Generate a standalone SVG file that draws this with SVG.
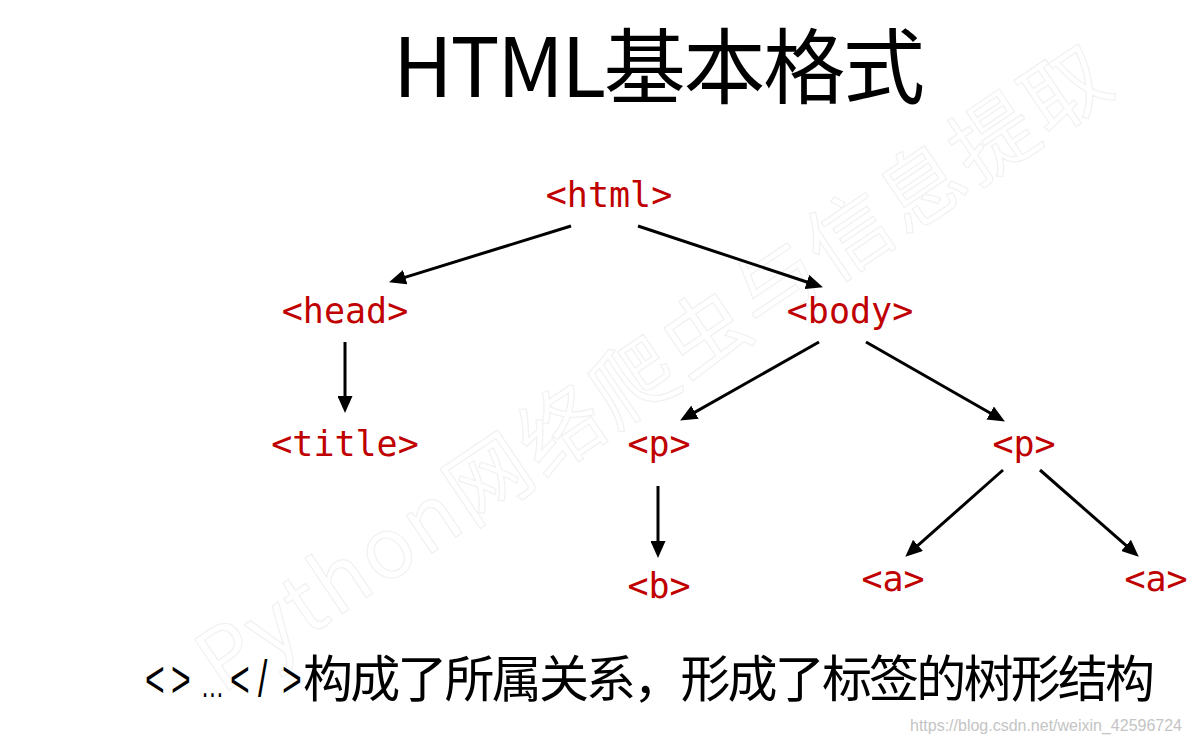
<svg xmlns="http://www.w3.org/2000/svg" width="1192" height="745" viewBox="0 0 1192 745">
  <style>
    .node { font-family: "DejaVu Sans Mono", "Liberation Mono", monospace; font-size: 35px; fill: #c00000; text-anchor: middle; }
    .edge { stroke: #000; stroke-width: 3; fill: none; marker-end: url(#arrow); }
    .cjk { font-family: "Noto Sans CJK SC", "Liberation Sans", sans-serif; fill: #000; }
  </style>
  <defs>
    <marker id="arrow" markerUnits="userSpaceOnUse" markerWidth="17" markerHeight="15" viewBox="0 0 17 15" refX="8" refY="7.5" orient="auto">
      <path d="M0,0 L17,7.5 L0,15 z" fill="#000"/>
    </marker>
  </defs>
  <rect width="1192" height="745" fill="#fff"/>

  <!-- faint watermarks -->
  <text transform="translate(222,695) rotate(-34)" x="0" y="0" textLength="1080" lengthAdjust="spacing" style="font-family:'Noto Sans CJK SC',sans-serif;font-size:84px;fill:none;stroke:#f1f1f1;stroke-width:1.2">Python网络爬虫与信息提取</text>
  <text x="910" y="731" textLength="272" lengthAdjust="spacingAndGlyphs" style="font-family:'Liberation Sans',sans-serif;font-size:16px;fill:#c4c4c4">https://blog.csdn.net/weixin_42596724</text>

  <text id="title" class="cjk" x="393" y="97" font-size="82" textLength="532" lengthAdjust="spacing">HTML基本格式</text>

  <g id="connectors">
    <line class="edge" x1="571" y1="226" x2="397.6" y2="279.6"/>
    <line class="edge" x1="638" y1="226" x2="814.4" y2="284.5"/>
    <line class="edge" x1="345" y1="342" x2="345" y2="404"/>
    <line class="edge" x1="819" y1="342" x2="688" y2="416.1"/>
    <line class="edge" x1="866" y1="342" x2="997.1" y2="417"/>
    <line class="edge" x1="658" y1="486" x2="658" y2="549"/>
    <line class="edge" x1="1003" y1="470" x2="912" y2="550.7"/>
    <line class="edge" x1="1040" y1="470" x2="1132" y2="550.7"/>
  </g>

  <g id="node-html"><text class="node" x="609" y="207">&lt;html&gt;</text></g>
  <g id="node-head"><text class="node" x="345" y="323">&lt;head&gt;</text></g>
  <g id="node-body"><text class="node" x="850" y="323">&lt;body&gt;</text></g>
  <g id="node-title"><text class="node" x="345" y="456">&lt;title&gt;</text></g>
  <g id="node-p1"><text class="node" x="659" y="456">&lt;p&gt;</text></g>
  <g id="node-p2"><text class="node" x="1024" y="456">&lt;p&gt;</text></g>
  <g id="node-b"><text class="node" x="659" y="598">&lt;b&gt;</text></g>
  <g id="node-a1"><text class="node" x="893" y="591">&lt;a&gt;</text></g>
  <g id="node-a2"><text class="node" x="1156" y="591">&lt;a&gt;</text></g>

  <g id="caption">
    <text transform="scale(0.65,1)" y="697" style="font-family:'Liberation Sans',sans-serif;font-size:52px;fill:#000"><tspan x="223 263">&lt;&gt;</tspan><tspan x="309" style="font-size:36px">…</tspan><tspan x="354 397 434">&lt;/&gt;</tspan></text>
    <text class="cjk" x="303" y="697" font-size="50" textLength="852" lengthAdjust="spacing">构成了所属关系，形成了标签的树形结构</text>
  </g>
</svg>
